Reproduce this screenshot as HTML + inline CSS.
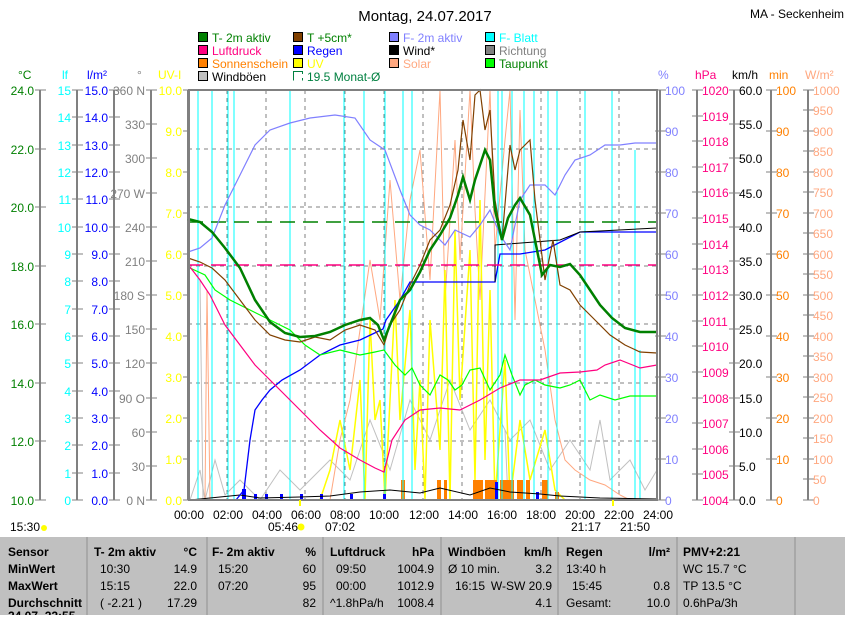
<!DOCTYPE html>
<html><head><meta charset="utf-8"><style>
body{margin:0;width:845px;height:615px;overflow:hidden;background:#fff;font-family:"Liberation Sans",sans-serif}
svg text{font-family:"Liberation Sans",sans-serif;font-size:12px}
</style></head><body>
<svg width="845" height="615" xmlns="http://www.w3.org/2000/svg">
<text x="425" y="21" text-anchor="middle" style="font-size:15px">Montag, 24.07.2017</text>
<text x="750" y="18">MA - Seckenheim</text>
<g stroke="#000" stroke-width="1">
<rect x="198.5" y="32.5" width="9" height="9" fill="#008000"/><rect x="293.5" y="32.5" width="9" height="9" fill="#804000"/><rect x="389.5" y="32.5" width="9" height="9" fill="#8080ff"/><rect x="485.5" y="32.5" width="9" height="9" fill="#00ffff"/>
<rect x="198.5" y="45.5" width="9" height="9" fill="#ff0080"/><rect x="293.5" y="45.5" width="9" height="9" fill="#0000ff"/><rect x="389.5" y="45.5" width="9" height="9" fill="#000"/><rect x="485.5" y="45.5" width="9" height="9" fill="#808080"/>
<rect x="198.5" y="58.5" width="9" height="9" fill="#ff8000"/><rect x="293.5" y="58.5" width="9" height="9" fill="#ffff00"/><rect x="389.5" y="58.5" width="9" height="9" fill="#ffa880"/><rect x="485.5" y="58.5" width="9" height="9" fill="#00ff00"/>
<rect x="198.5" y="71.5" width="9" height="9" fill="#c0c0c0"/>
</g>
<path d="M293.5 80.5V71.5H302.5V74M302.5 78V80.5" stroke="#008040" fill="none"/>
<g style="font-size:12px">
<text x="212" y="42" fill="#008000">T- 2m aktiv</text><text x="307" y="42" fill="#008000">T +5cm*</text><text x="403" y="42" fill="#8080ff">F- 2m aktiv</text><text x="499" y="42" fill="#00ffff">F- Blatt</text>
<text x="212" y="55" fill="#ff0080">Luftdruck</text><text x="307" y="55" fill="#0000ff">Regen</text><text x="403" y="55">Wind*</text><text x="499" y="55" fill="#808080">Richtung</text>
<text x="212" y="68" fill="#ff8000">Sonnenschein</text><text x="307" y="68" fill="#ffff00">UV</text><text x="403" y="68" fill="#ffa880">Solar</text><text x="499" y="68" fill="#008000">Taupunkt</text>
<text x="212" y="81">Windböen</text><text x="307" y="81" fill="#008040">19.5 Monat-Ø</text>
</g>
<text x="18" y="79" fill="#008000">°C</text><text x="62" y="79" fill="#00ffff">lf</text><text x="87" y="79" fill="#0000ff">l/m²</text><text x="137" y="79" fill="#808080">°</text><text x="158" y="79" fill="#ffff00">UV-I</text>
<text x="658" y="79" fill="#8080ff">%</text><text x="695" y="79" fill="#ff0080">hPa</text><text x="732" y="79">km/h</text><text x="769" y="79" fill="#ff8000">min</text><text x="805" y="79" fill="#ffa880">W/m²</text>
<g stroke="#808080" stroke-width="2" fill="none">
<path d="M40 90V500M77 90V500M114 90V500M151 90V500M188 90V500M660 90V500M697 90V500M734 90V500M771 90V500M808 90V500"/>
</g>
<g stroke="#808080" stroke-width="1">
<path d="M35 90H46M35 149H46M35 207H46M35 266H46M35 324H46M35 383H46M35 441H46M35 500H46"/>
<path d="M72 90H83M72 117H83M72 145H83M72 172H83M72 199H83M72 227H83M72 254H83M72 281H83M72 309H83M72 336H83M72 363H83M72 391H83M72 418H83M72 445H83M72 473H83M72 500H83"/>
<path d="M109 90H120M109 117H120M109 145H120M109 172H120M109 199H120M109 227H120M109 254H120M109 281H120M109 309H120M109 336H120M109 363H120M109 391H120M109 418H120M109 445H120M109 473H120M109 500H120"/>
<path d="M146 90H157M146 124H157M146 158H157M146 193H157M146 227H157M146 261H157M146 295H157M146 329H157M146 363H157M146 398H157M146 432H157M146 466H157M146 500H157"/>
<path d="M183 90H189M183 131H189M183 172H189M183 213H189M183 254H189M183 295H189M183 336H189M183 377H189M183 418H189M183 459H189M183 500H189"/>
<path d="M655 90H666M655 131H666M655 172H666M655 213H666M655 254H666M655 295H666M655 336H666M655 377H666M655 418H666M655 459H666M655 500H666"/>
<path d="M692 90H703M692 116H703M692 141H703M692 167H703M692 192H703M692 218H703M692 244H703M692 269H703M692 295H703M692 321H703M692 346H703M692 372H703M692 398H703M692 423H703M692 449H703M692 474H703M692 500H703"/>
<path d="M729 90H740M729 124H740M729 158H740M729 193H740M729 227H740M729 261H740M729 295H740M729 329H740M729 363H740M729 398H740M729 432H740M729 466H740M729 500H740"/>
<path d="M766 90H777M766 131H777M766 172H777M766 213H777M766 254H777M766 295H777M766 336H777M766 377H777M766 418H777M766 459H777M766 500H777"/>
<path d="M803 90H814M803 110H814M803 131H814M803 151H814M803 172H814M803 192H814M803 213H814M803 233H814M803 254H814M803 274H814M803 295H814M803 315H814M803 336H814M803 356H814M803 377H814M803 397H814M803 418H814M803 438H814M803 459H814M803 479H814M803 500H814"/>
</g>
<g text-anchor="end" fill="#008000"><text x="34" y="95">24.0</text><text x="34" y="154">22.0</text><text x="34" y="212">20.0</text><text x="34" y="271">18.0</text><text x="34" y="329">16.0</text><text x="34" y="388">14.0</text><text x="34" y="446">12.0</text><text x="34" y="505">10.0</text></g>
<g text-anchor="end" fill="#00ffff"><text x="71" y="95">15</text><text x="71" y="122">14</text><text x="71" y="150">13</text><text x="71" y="177">12</text><text x="71" y="204">11</text><text x="71" y="232">10</text><text x="71" y="259">9</text><text x="71" y="286">8</text><text x="71" y="314">7</text><text x="71" y="341">6</text><text x="71" y="368">5</text><text x="71" y="396">4</text><text x="71" y="423">3</text><text x="71" y="450">2</text><text x="71" y="478">1</text><text x="71" y="505">0</text></g>
<g text-anchor="end" fill="#0000ff"><text x="108" y="95">15.0</text><text x="108" y="122">14.0</text><text x="108" y="150">13.0</text><text x="108" y="177">12.0</text><text x="108" y="204">11.0</text><text x="108" y="232">10.0</text><text x="108" y="259">9.0</text><text x="108" y="286">8.0</text><text x="108" y="314">7.0</text><text x="108" y="341">6.0</text><text x="108" y="368">5.0</text><text x="108" y="396">4.0</text><text x="108" y="423">3.0</text><text x="108" y="450">2.0</text><text x="108" y="478">1.0</text><text x="108" y="505">0.0</text></g>
<g text-anchor="end" fill="#808080"><text x="145" y="95">360 N</text><text x="145" y="129">330</text><text x="145" y="163">300</text><text x="145" y="198">270 W</text><text x="145" y="232">240</text><text x="145" y="266">210</text><text x="145" y="300">180 S</text><text x="145" y="334">150</text><text x="145" y="368">120</text><text x="145" y="403">90 O</text><text x="145" y="437">60</text><text x="145" y="471">30</text><text x="145" y="505">0 N</text></g>
<g text-anchor="end" fill="#ffff00"><text x="182" y="95">10.0</text><text x="182" y="136">9.0</text><text x="182" y="177">8.0</text><text x="182" y="218">7.0</text><text x="182" y="259">6.0</text><text x="182" y="300">5.0</text><text x="182" y="341">4.0</text><text x="182" y="382">3.0</text><text x="182" y="423">2.0</text><text x="182" y="464">1.0</text><text x="182" y="505">0.0</text></g>
<g fill="#8080ff"><text x="665" y="95">100</text><text x="665" y="136">90</text><text x="665" y="177">80</text><text x="665" y="218">70</text><text x="665" y="259">60</text><text x="665" y="300">50</text><text x="665" y="341">40</text><text x="665" y="382">30</text><text x="665" y="423">20</text><text x="665" y="464">10</text><text x="665" y="505">0</text></g>
<g fill="#ff0080"><text x="702" y="95">1020</text><text x="702" y="121">1019</text><text x="702" y="146">1018</text><text x="702" y="172">1017</text><text x="702" y="197">1016</text><text x="702" y="223">1015</text><text x="702" y="249">1014</text><text x="702" y="274">1013</text><text x="702" y="300">1012</text><text x="702" y="326">1011</text><text x="702" y="351">1010</text><text x="702" y="377">1009</text><text x="702" y="403">1008</text><text x="702" y="428">1007</text><text x="702" y="454">1006</text><text x="702" y="479">1005</text><text x="702" y="505">1004</text></g>
<g><text x="739" y="95">60.0</text><text x="739" y="129">55.0</text><text x="739" y="163">50.0</text><text x="739" y="198">45.0</text><text x="739" y="232">40.0</text><text x="739" y="266">35.0</text><text x="739" y="300">30.0</text><text x="739" y="334">25.0</text><text x="739" y="368">20.0</text><text x="739" y="403">15.0</text><text x="739" y="437">10.0</text><text x="739" y="471">5.0</text><text x="739" y="505">0.0</text></g>
<g fill="#ff8000"><text x="776" y="95">100</text><text x="776" y="136">90</text><text x="776" y="177">80</text><text x="776" y="218">70</text><text x="776" y="259">60</text><text x="776" y="300">50</text><text x="776" y="341">40</text><text x="776" y="382">30</text><text x="776" y="423">20</text><text x="776" y="464">10</text><text x="776" y="505">0</text></g>
<g fill="#ffa880"><text x="813" y="95">1000</text><text x="813" y="115">950</text><text x="813" y="136">900</text><text x="813" y="156">850</text><text x="813" y="177">800</text><text x="813" y="197">750</text><text x="813" y="218">700</text><text x="813" y="238">650</text><text x="813" y="259">600</text><text x="813" y="279">550</text><text x="813" y="300">500</text><text x="813" y="320">450</text><text x="813" y="341">400</text><text x="813" y="361">350</text><text x="813" y="382">300</text><text x="813" y="402">250</text><text x="813" y="423">200</text><text x="813" y="443">150</text><text x="813" y="464">100</text><text x="813" y="484">50</text><text x="813" y="505">0</text></g>
<g stroke="#808080" stroke-dasharray="4,4" stroke-width="1">
<path d="M227 90V500M266 90V500M305 90V500M345 90V500M384 90V500M423 90V500M462 90V500M502 90V500M541 90V500M580 90V500M619 90V500"/>
<path d="M188 149H657M188 207H657M188 266H657M188 324H657M188 383H657M188 441H657"/>
</g>
<g fill="none">
<g stroke="#c0c0c0"><path d="M190 500L200 470L205 500L215 460L225 495L240 480L260 500L280 470L300 490L330 460L350 480L370 420L390 470L410 400L430 440L450 380L470 430L490 400L510 440L530 420L550 470L570 440L590 470L600 420L610 480L630 460L645 490L657 470"/><path d="M200 280L203 500M505 430L508 500"/></g>
<g stroke="#ffa880"><path d="M205 500L207 290L210 500M330 500L340 440L350 400L360 330L370 260L380 320L390 180L400 300L410 200L420 150L430 280L440 90L445 300L455 140L460 260L470 90L475 210L480 300L490 90L495 250L505 140L510 90L515 320L520 110L525 250L535 300L545 350L555 420L565 460L575 470L590 480L605 485L620 495L630 500"/></g>
<g stroke="#ffff00" stroke-width="1.5"><path d="M320 500L330 470L340 420L350 470L360 380L365 500L370 320L375 420L380 400L385 500L395 300L400 420L410 310L415 470L420 380L425 500L430 320L440 450L445 270L450 500L455 230L460 400L470 250L475 480L480 200L485 460L490 290L495 500L505 360L510 500L520 420L530 480L545 430L555 490L565 500"/></g>
<g fill="#ff8000"><rect x="401" y="480" width="4" height="20"/><rect x="437" y="480" width="4" height="20"/><rect x="444" y="480" width="3" height="20"/><rect x="473" y="480" width="10" height="20"/><rect x="485" y="480" width="12" height="20"/><rect x="500" y="480" width="14" height="20"/><rect x="517" y="480" width="6" height="20"/><rect x="526" y="480" width="4" height="20"/><rect x="542" y="480" width="6" height="20"/><rect x="555" y="492" width="4" height="8"/></g>
<g stroke="#00ffff" stroke-width="1"><path d="M198 500V90M212 500V90M228 500V90M234 500V90M290 500V90M344 500V90M364 500V90M385 500V90M403 500V90M412 500V90M498 500V90M502 500V90M512 500V90M524 500V90M534 500V90M548 500V90M557 500V90M585 500V90M612 500V90M635 500V150M640 500V350"/></g>
<g fill="#0000ff"><rect x="242" y="489" width="4" height="11"/><rect x="254" y="494" width="3" height="6"/><rect x="265" y="494" width="3" height="6"/><rect x="280" y="494" width="3" height="6"/><rect x="300" y="494" width="3" height="6"/><rect x="320" y="494" width="3" height="6"/><rect x="350" y="494" width="3" height="6"/><rect x="383" y="494" width="3" height="6"/><rect x="495" y="482" width="3" height="18"/><rect x="536" y="492" width="3" height="8"/></g>
<path stroke="#000" d="M190 500L240 495L260 498L300 497L330 496L360 492L390 490L420 493L440 488L470 495L490 488L510 492L540 494L560 496L600 498L657 499"/>
<path stroke="#0000ff" stroke-width="1.3" d="M236 500L244 490L250 440L255 410L262 400L270 390L282 380L300 370L320 355L340 345L360 340L383 329L386 320L400 300L410 282L495 282L500 254L520 254L545 250L580 232L657 232"/>
<path stroke="#000" d="M495 282L495 245L560 240L580 232L657 228"/>
<path stroke="#008000" stroke-dasharray="15,8" stroke-width="1.5" d="M188 222H657"/>
<path stroke="#ff0080" stroke-dasharray="15,8" stroke-width="1.5" d="M188 265H657"/>
<path stroke="#00ff00" stroke-width="1.2" d="M190 268L205 275L215 290L230 300L250 310L270 320L290 330L305 345L320 355L340 350L360 355L375 352L384 350L395 365L405 375L412 368L420 385L430 395L440 375L448 380L455 390L462 385L470 370L480 368L490 390L500 375L505 355L512 375L520 395L525 385L535 380L545 385L560 388L570 385L580 380L590 400L600 395L615 400L630 396L657 396"/>
<path stroke="#ff0080" stroke-width="1.2" d="M190 267L200 280L210 295L225 325L240 345L255 365L270 380L285 395L300 410L320 430L340 448L360 460L375 468L384 472L392 440L405 420L420 410L440 408L460 410L480 400L500 388L520 380L540 380L560 373L580 372L597 370L605 365L620 360L640 368L657 365"/>
<path stroke="#8080ff" stroke-width="1.2" d="M188 252L200 248L212 238L225 205L240 175L255 145L270 130L290 123L310 118L335 115L355 118L370 140L385 150L400 190L410 215L420 225L430 230L445 245L455 230L470 237L480 225L490 210L500 235L510 250L520 200L530 185L545 185L555 195L565 175L575 160L590 155L605 145L620 145L635 143L657 143"/>
<path stroke="#804000" stroke-width="1.2" d="M188 258L200 262L212 268L225 280L240 300L255 320L270 335L285 340L300 342L315 337L330 340L345 330L360 325L375 330L384 345L390 325L400 310L410 285L420 265L430 240L440 230L450 205L458 170L463 120L470 160L475 95L480 90L485 130L490 110L495 200L502 240L510 145L515 170L520 150L530 140L535 200L545 280L553 240L560 285L570 290L580 305L595 320L610 335L625 345L640 352L657 353"/>
<path stroke="#008000" stroke-width="2.5" d="M188 219L200 222L212 232L225 248L240 268L255 300L270 322L285 333L300 337L315 336L330 332L345 325L360 320L370 318L378 325L384 340L392 320L400 300L410 290L420 272L430 250L440 235L450 218L458 195L463 177L470 200L475 180L480 165L485 150L490 160L495 210L502 240L508 218L515 205L520 198L530 215L535 240L542 275L550 265L560 267L570 264L580 275L590 290L600 305L612 318L625 328L640 332L657 332"/>
</g>
<rect x="189" y="90" width="468" height="410" fill="none" stroke="#808080" stroke-width="2"/>
<g text-anchor="middle"><text x="189" y="519">00:00</text><text x="228" y="519">02:00</text><text x="267" y="519">04:00</text><text x="306" y="519">06:00</text><text x="345" y="519">08:00</text><text x="384" y="519">10:00</text><text x="424" y="519">12:00</text><text x="463" y="519">14:00</text><text x="502" y="519">16:00</text><text x="541" y="519">18:00</text><text x="580" y="519">20:00</text><text x="619" y="519">22:00</text><text x="658" y="519">24:00</text></g>
<text x="10" y="531">15:30</text><circle cx="44" cy="528" r="3" fill="#ffff00"/>
<text x="268" y="531">05:46</text><circle cx="301" cy="527" r="3.5" fill="#ffff00"/><text x="325" y="531">07:02</text>
<text x="571" y="531">21:17</text><text x="620" y="531">21:50</text>
<path d="M300 500V506M613 500V506" stroke="#ffff00" stroke-width="2"/>
<rect x="0" y="537" width="845" height="78" fill="#c0c0c0"/>
<g stroke="#a0a0a0" stroke-width="1.5"><path d="M87 537V615M207 537V615M323 537V615M441 537V615M558 537V615M677 537V615M795 537V615"/></g>
<g font-weight="bold"><text x="8" y="556">Sensor</text><text x="8" y="573">MinWert</text><text x="8" y="590">MaxWert</text><text x="8" y="607">Durchschnitt</text><text x="8" y="620">24.07. 22:55</text>
<text x="94" y="556">T- 2m aktiv</text><text x="197" y="556" text-anchor="end">°C</text>
<text x="212" y="556">F- 2m aktiv</text><text x="316" y="556" text-anchor="end">%</text>
<text x="330" y="556">Luftdruck</text><text x="434" y="556" text-anchor="end">hPa</text>
<text x="448" y="556">Windböen</text><text x="552" y="556" text-anchor="end">km/h</text>
<text x="566" y="556">Regen</text><text x="670" y="556" text-anchor="end">l/m²</text>
<text x="683" y="556">PMV+2:21</text></g>
<g><text x="100" y="573">10:30</text><text x="197" y="573" text-anchor="end">14.9</text><text x="100" y="590">15:15</text><text x="197" y="590" text-anchor="end">22.0</text><text x="100" y="607">( -2.21 )</text><text x="197" y="607" text-anchor="end">17.29</text>
<text x="218" y="573">15:20</text><text x="316" y="573" text-anchor="end">60</text><text x="218" y="590">07:20</text><text x="316" y="590" text-anchor="end">95</text><text x="316" y="607" text-anchor="end">82</text>
<text x="336" y="573">09:50</text><text x="434" y="573" text-anchor="end">1004.9</text><text x="336" y="590">00:00</text><text x="434" y="590" text-anchor="end">1012.9</text><text x="330" y="607">^1.8hPa/h</text><text x="434" y="607" text-anchor="end">1008.4</text>
<text x="448" y="573">Ø 10 min.</text><text x="552" y="573" text-anchor="end">3.2</text><text x="455" y="590">16:15</text><text x="552" y="590" text-anchor="end">W-SW 20.9</text><text x="552" y="607" text-anchor="end">4.1</text>
<text x="566" y="573">13:40 h</text><text x="572" y="590">15:45</text><text x="670" y="590" text-anchor="end">0.8</text><text x="566" y="607">Gesamt:</text><text x="670" y="607" text-anchor="end">10.0</text>
<text x="683" y="573">WC 15.7 °C</text><text x="683" y="590">TP 13.5 °C</text><text x="683" y="607">0.6hPa/3h</text></g>
</svg>
</body></html>
